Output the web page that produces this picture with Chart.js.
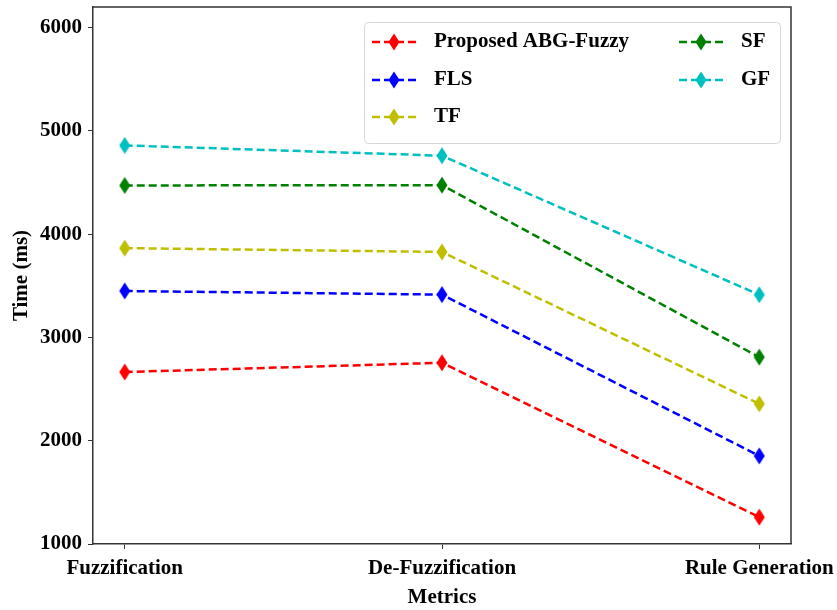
<!DOCTYPE html>
<html>
<head>
<meta charset="utf-8">
<script src="https://cdn.jsdelivr.net/npm/chart.js@4/dist/chart.umd.min.js"></script>
<style>
  html, body { margin: 0; padding: 0; background: #fff; }
  #wrap { width: 837px; height: 610px; }
</style>
</head>
<body>
<div id="wrap"><canvas id="chart" width="837" height="610"></canvas></div>
<script>
// --- Data ---
const CATEGORIES = ['Fuzzification', 'De-Fuzzification', 'Rule Generation'];
const SERIES_NAMES = ['Proposed ABG-Fuzzy', 'FLS', 'TF', 'SF', 'GF'];
const SERIES_COLORS = ['#ff0000', '#0000ff', '#bfbf00', '#008000', '#00bfbf'];
const PROPOSED = [2665, 2755, 1260];
const FLS = [3450, 3415, 1853];
const TF = [3865, 3828, 2357];
const SF = [4472, 4475, 2809];
const GF = [4860, 4760, 3413];
const Y_TICKS = [1000, 2000, 3000, 4000, 5000, 6000];

const SERIES_VALUES = [PROPOSED, FLS, TF, SF, GF];
const FONT = { family: '"Liberation Serif", "Times New Roman", serif', weight: 'bold', size: 21 };

// thin diamond marker ('d' in matplotlib) as a small canvas
function thinDiamond(color) {
  const c = document.createElement('canvas');
  c.width = 14; c.height = 20;
  const g = c.getContext('2d');
  g.fillStyle = color;
  g.beginPath();
  g.moveTo(7, 1.5);
  g.lineTo(12.5, 10);
  g.lineTo(7, 18.5);
  g.lineTo(1.5, 10);
  g.closePath();
  g.fill();
  return c;
}

const datasets = SERIES_NAMES.map((name, i) => ({
  label: name,
  data: SERIES_VALUES[i].map((v, j) => ({ x: j, y: v })),
  borderColor: SERIES_COLORS[i],
  backgroundColor: SERIES_COLORS[i],
  borderWidth: 2.5,
  borderDash: [8, 4],
  tension: 0,
  pointStyle: thinDiamond(SERIES_COLORS[i]),
  fill: false
}));

// frame (top + right spines) and matplotlib-like legend
const framePlugin = {
  id: 'frame',
  afterDraw(chart) {
    const { ctx, chartArea: a } = chart;
    ctx.save();
    ctx.strokeStyle = '#333';
    ctx.lineWidth = 1.5;
    ctx.beginPath();
    ctx.moveTo(a.left, a.top);
    ctx.lineTo(a.right, a.top);
    ctx.lineTo(a.right, a.bottom);
    ctx.stroke();

    // legend box
    const bx = 364, by = 22, bw = 416, bh = 121;
    ctx.fillStyle = 'rgba(255,255,255,0.8)';
    ctx.strokeStyle = '#d6d6d6';
    ctx.lineWidth = 1;
    ctx.beginPath();
    ctx.roundRect(bx + 0.5, by + 0.5, bw, bh, 4);
    ctx.fill();
    ctx.stroke();

    const cols = [{ x: 372, n: 3 }, { x: 679, n: 2 }];
    const rowY = [42, 80, 117];
    let k = 0;
    ctx.font = 'bold 21px "Liberation Serif", "Times New Roman", serif';
    ctx.textBaseline = 'middle';
    cols.forEach(col => {
      for (let r = 0; r < col.n; r++) {
        const ds = chart.data.datasets[k++];
        const y = rowY[r];
        ctx.strokeStyle = ds.borderColor;
        ctx.lineWidth = 2.5;
        ctx.setLineDash([8, 4]);
        ctx.beginPath();
        ctx.moveTo(col.x, y);
        ctx.lineTo(col.x + 44, y);
        ctx.stroke();
        ctx.setLineDash([]);
        const img = ds.pointStyle;
        ctx.drawImage(img, col.x + 22 - img.width / 2, y - img.height / 2);
        ctx.fillStyle = '#000';
        ctx.fillText(ds.label, col.x + 62, y);
      }
    });
    ctx.restore();
  }
};

new Chart(document.getElementById('chart'), {
  type: 'line',
  data: { datasets },
  plugins: [framePlugin],
  options: {
    responsive: false,
    animation: false,
    layout: { padding: { top: 7, right: 46, bottom: 0, left: 0 } },
    plugins: {
      legend: { display: false },
      tooltip: { enabled: false }
    },
    scales: {
      x: {
        type: 'linear',
        min: -0.1,
        max: 2.1,
        afterBuildTicks: s => { s.ticks = CATEGORIES.map((c, i) => ({ value: i })); },
        afterFit: s => { s.height = 66; s.paddingLeft = 0; s.paddingRight = 0; },
        ticks: {
          color: '#000',
          font: FONT,
          padding: 7,
          maxRotation: 0,
          callback: v => CATEGORIES[v]
        },
        grid: { drawOnChartArea: false, drawTicks: true, tickLength: 5, color: '#333' },
        border: { color: '#333', width: 1.5 },
        title: { display: true, text: 'Metrics', color: '#000', font: FONT, padding: { top: 0, bottom: 0 } }
      },
      y: {
        min: 1000,
        max: 6200,
        afterBuildTicks: s => { s.ticks = Y_TICKS.map(v => ({ value: v })); },
        afterFit: s => { s.width = 93; s.paddingTop = 0; s.paddingBottom = 0; },
        ticks: { color: '#000', font: FONT, padding: 6, callback: v => String(v) },
        grid: { drawOnChartArea: false, drawTicks: true, tickLength: 5, color: '#333' },
        border: { color: '#333', width: 1.5 },
        title: { display: true, text: 'Time (ms)', color: '#000', font: FONT, padding: { top: 9, bottom: 0 } }
      }
    }
  }
});
</script>
</body>
</html>
